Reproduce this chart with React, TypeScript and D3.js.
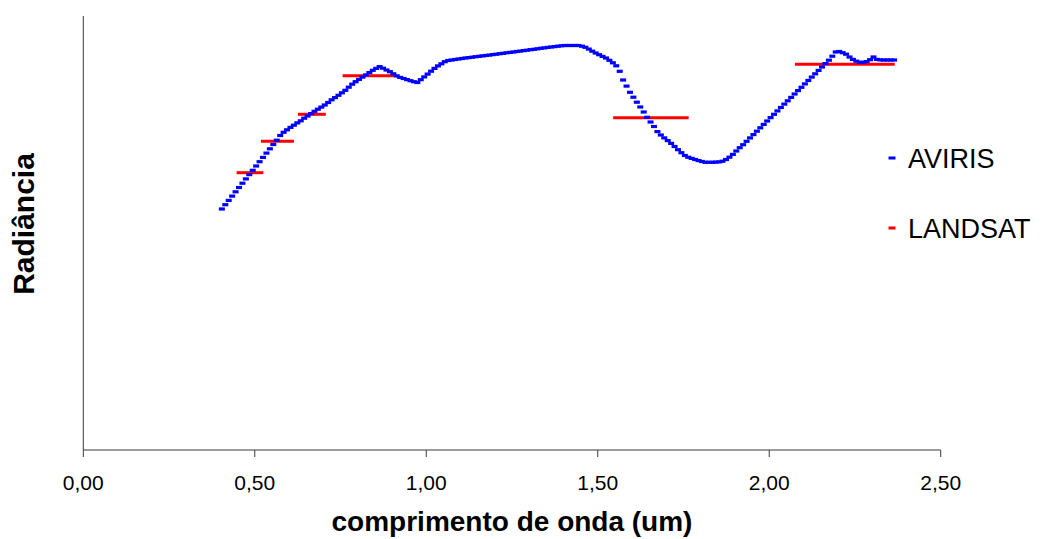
import React from "react";
import * as d3 from "d3";

// AVIRIS spectrum: band centre wavelengths (µm) and radiance (arbitrary units)
const avirisWavelength: number[] = [
  0.404, 0.414, 0.424, 0.434, 0.444, 0.454, 0.464, 0.474, 0.484, 0.494,
  0.504, 0.514, 0.524, 0.534, 0.544, 0.554, 0.564, 0.574, 0.584, 0.594,
  0.604, 0.614, 0.624, 0.634, 0.644, 0.654, 0.664, 0.674, 0.684, 0.694,
  0.704, 0.714, 0.724, 0.734, 0.744, 0.754, 0.764, 0.774, 0.784, 0.794,
  0.804, 0.814, 0.824, 0.834, 0.844, 0.854, 0.864, 0.874, 0.884, 0.894,
  0.904, 0.914, 0.924, 0.934, 0.944, 0.954, 0.964, 0.974, 0.984, 0.994,
  1.004, 1.014, 1.024, 1.034, 1.044, 1.054, 1.064, 1.074, 1.084, 1.094,
  1.104, 1.114, 1.124, 1.134, 1.144, 1.154, 1.164, 1.174, 1.184, 1.194,
  1.204, 1.214, 1.224, 1.234, 1.244, 1.254, 1.264, 1.274, 1.284, 1.294,
  1.304, 1.314, 1.324, 1.334, 1.344, 1.354, 1.364, 1.374, 1.384, 1.394,
  1.404, 1.414, 1.424, 1.434, 1.444, 1.454, 1.464, 1.474, 1.484, 1.494,
  1.504, 1.514, 1.524, 1.534, 1.544, 1.554, 1.564, 1.574, 1.584, 1.594,
  1.604, 1.614, 1.624, 1.634, 1.644, 1.654, 1.664, 1.674, 1.684, 1.694,
  1.704, 1.714, 1.724, 1.734, 1.744, 1.754, 1.764, 1.774, 1.784, 1.794,
  1.804, 1.814, 1.824, 1.834, 1.844, 1.854, 1.864, 1.874, 1.884, 1.894,
  1.904, 1.914, 1.924, 1.934, 1.944, 1.954, 1.964, 1.974, 1.984, 1.994,
  2.004, 2.014, 2.024, 2.034, 2.044, 2.054, 2.064, 2.074, 2.084, 2.094,
  2.104, 2.114, 2.124, 2.134, 2.144, 2.154, 2.164, 2.174, 2.184, 2.194,
  2.204, 2.214, 2.224, 2.234, 2.244, 2.254, 2.264, 2.274, 2.284, 2.294,
  2.304, 2.314, 2.324, 2.334, 2.344, 2.354, 2.364,
];

const avirisRadiance: number[] = [
  24.1, 24.53, 24.96, 25.39, 25.82, 26.25, 26.68, 27.11, 27.54, 27.97,
  28.4, 28.83, 29.26, 29.69, 30.12, 30.55, 30.98, 31.45, 31.77, 32.02,
  32.26, 32.48, 32.71, 32.92, 33.18, 33.4, 33.64, 33.87, 34.08, 34.29,
  34.5, 34.75, 35.02, 35.24, 35.47, 35.72, 35.97, 36.28, 36.58, 36.83,
  37.06, 37.29, 37.51, 37.74, 37.97, 38.16, 38.34, 38.18, 38.0, 37.83,
  37.62, 37.41, 37.26, 37.15, 37.04, 36.93, 36.83, 36.75, 37.03, 37.31,
  37.59, 37.88, 38.16, 38.41, 38.62, 38.83, 38.95, 39.0, 39.05, 39.1,
  39.15, 39.2, 39.24, 39.28, 39.33, 39.37, 39.41, 39.45, 39.49, 39.54,
  39.58, 39.63, 39.67, 39.72, 39.76, 39.8, 39.85, 39.89, 39.94, 39.98,
  40.03, 40.07, 40.12, 40.17, 40.21, 40.26, 40.3, 40.34, 40.38, 40.42,
  40.45, 40.45, 40.45, 40.45, 40.45, 40.38, 40.27, 40.09, 39.88, 39.7,
  39.53, 39.36, 39.2, 38.97, 38.72, 38.42, 37.87, 37.0, 36.39, 35.77,
  35.28, 34.78, 34.3, 33.8, 33.27, 32.8, 32.35, 31.84, 31.5, 31.21,
  30.94, 30.66, 30.35, 30.03, 29.73, 29.45, 29.27, 29.16, 29.05, 28.94,
  28.85, 28.77, 28.77, 28.77, 28.79, 28.81, 28.88, 29.05, 29.28, 29.56,
  29.9, 30.23, 30.53, 30.87, 31.21, 31.54, 31.88, 32.22, 32.56, 32.9,
  33.24, 33.57, 33.91, 34.25, 34.59, 34.92, 35.26, 35.6, 35.94, 36.27,
  36.61, 36.95, 37.29, 37.62, 37.96, 38.3, 38.64, 38.98, 39.38, 39.8,
  39.85, 39.73, 39.58, 39.3, 39.06, 38.88, 38.77, 38.77, 38.84, 39.03,
  39.3, 39.06, 39.01, 39.0, 39.0, 39.0, 39.0,
];

// Landsat TM bands: start / end wavelength (µm) and band-averaged radiance
const landsatStart: number[] = [0.447, 0.518, 0.626, 0.756, 1.545, 2.075];
const landsatEnd: number[] = [0.525, 0.614, 0.707, 0.915, 1.765, 2.366];
const landsatRadiance: number[] = [27.73, 30.87, 33.57, 37.43, 33.23, 38.57];

const xTicks: number[] = [0, 0.5, 1.0, 1.5, 2.0, 2.5];
const seriesNames: string[] = ["AVIRIS", "LANDSAT"];
const seriesColors: string[] = ["#0000FF", "#FF0000"];

const xTitle = "comprimento de onda (um)";
const yTitle = "Radiância";

const WIDTH = 1044;
const HEIGHT = 539;
const plot = { left: 83.3, right: 940.7, top: 16, bottom: 450 };

const formatTick = (v: number) => v.toFixed(2).replace(".", ",");

export default function App() {
  const x = d3.scaleLinear().domain([0, 2.5]).range([plot.left, plot.right]);
  const y = d3.scaleLinear().domain([0, 43.4]).range([plot.bottom, plot.top]);

  const font = "Arial, 'Liberation Sans', Helvetica, sans-serif";
  const axisColor = "#3a3a3a";
  const mw = 6;
  const mh = 3.2;

  return (
    <svg
      width={WIDTH}
      height={HEIGHT}
      style={{ position: "absolute", left: 0, top: 0, background: "#fff" }}
      fontFamily={font}
    >
      <rect x={0} y={0} width={WIDTH} height={HEIGHT} fill="#fff" />

      {/* axes */}
      <line x1={plot.left} x2={plot.left} y1={plot.top} y2={plot.bottom} stroke={axisColor} strokeWidth={1} />
      <line x1={plot.left} x2={plot.right} y1={plot.bottom} y2={plot.bottom} stroke={axisColor} strokeWidth={1} />
      {xTicks.map((t) => (
        <g key={t}>
          <line x1={x(t)} x2={x(t)} y1={plot.bottom} y2={plot.bottom + 7} stroke={axisColor} strokeWidth={1} />
          <text x={x(t)} y={490} textAnchor="middle" fontSize={21} fill="#000">
            {formatTick(t)}
          </text>
        </g>
      ))}

      {/* axis titles */}
      <text x={(plot.left + plot.right) / 2} y={531} textAnchor="middle" fontSize={28} fontWeight="bold" fill="#000">
        {xTitle}
      </text>
      <text
        transform="translate(34, 224) rotate(-90)"
        textAnchor="middle"
        fontSize={30}
        fontWeight="bold"
        fill="#000"
      >
        {yTitle}
      </text>

      {/* Landsat band averages */}
      {landsatStart.map((s, i) => (
        <line
          key={`l${i}`}
          x1={x(s)}
          x2={x(landsatEnd[i])}
          y1={y(landsatRadiance[i])}
          y2={y(landsatRadiance[i])}
          stroke={seriesColors[1]}
          strokeWidth={3}
        />
      ))}

      {/* AVIRIS samples as dash markers */}
      {avirisWavelength.map((w, i) => (
        <rect
          key={`a${i}`}
          x={x(w) - mw / 2}
          y={y(avirisRadiance[i]) - mh / 2}
          width={mw}
          height={mh}
          fill={seriesColors[0]}
        />
      ))}

      {/* legend */}
      {seriesNames.map((name, i) => (
        <g key={name} transform={`translate(892, ${158 + i * 70})`}>
          <rect x={-3.5} y={-1.5} width={7} height={3} fill={seriesColors[i]} />
          <text x={16} y={9.5} fontSize={27} fill="#000">
            {name}
          </text>
        </g>
      ))}
    </svg>
  );
}
